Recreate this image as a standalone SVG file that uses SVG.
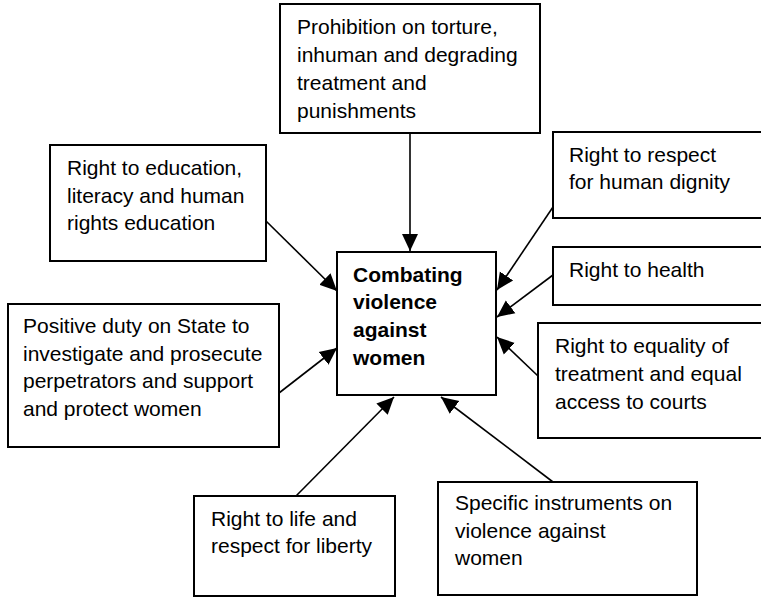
<svg xmlns="http://www.w3.org/2000/svg" width="761" height="597" viewBox="0 0 761 597">
  <style>
    .box { fill: #ffffff; stroke: #000000; stroke-width: 2; }
    .lbl { font-family: "Liberation Sans", Arial, Helvetica, sans-serif; font-size: 21px; fill: #000000; }
    .hub { font-weight: bold; }
    .link { stroke: #000000; stroke-width: 1.6; fill: none; marker-end: url(#head); }
  </style>
  <defs>
    <marker id="head" markerUnits="userSpaceOnUse" markerWidth="18" markerHeight="18" viewBox="0 -9 18 18" refX="17" refY="0" orient="auto">
      <path d="M0,-8 L17,0 L0,8 Z" fill="#000000"/>
    </marker>
  </defs>
  <rect width="761" height="597" fill="#ffffff"/>

  <!-- connectors: every outer box points at the hub -->
  <g id="connectors">
    <line class="link" x1="410" y1="133" x2="410" y2="251"/>
    <line class="link" x1="266" y1="221" x2="337" y2="291"/>
    <line class="link" x1="279" y1="393" x2="337" y2="348"/>
    <line class="link" x1="296" y1="496" x2="394" y2="397"/>
    <line class="link" x1="553" y1="482" x2="441" y2="397"/>
    <line class="link" x1="538" y1="376" x2="497" y2="337"/>
    <line class="link" x1="553" y1="275" x2="497" y2="317"/>
    <line class="link" x1="553" y1="207" x2="497" y2="290"/>
  </g>

  <g id="torture">
    <rect class="box" x="280" y="4" width="260" height="129"/>
    <text class="lbl" x="297" y="34">Prohibition on torture,</text>
    <text class="lbl" x="297" y="62">inhuman and degrading</text>
    <text class="lbl" x="297" y="90">treatment and</text>
    <text class="lbl" x="297" y="118">punishments</text>
  </g>

  <g id="education">
    <rect class="box" x="50" y="145" width="216" height="116"/>
    <text class="lbl" x="67" y="175">Right to education,</text>
    <text class="lbl" x="67" y="203">literacy and human</text>
    <text class="lbl" x="67" y="230">rights education</text>
  </g>

  <g id="dignity">
    <rect class="box" x="553" y="132" width="230" height="86"/>
    <text class="lbl" x="569" y="162">Right to respect</text>
    <text class="lbl" x="569" y="189">for human dignity</text>
  </g>

  <g id="health">
    <rect class="box" x="553" y="247" width="230" height="58"/>
    <text class="lbl" x="569" y="277">Right to health</text>
  </g>

  <g id="positive-duty">
    <rect class="box" x="8" y="304" width="271" height="143"/>
    <text class="lbl" x="23" y="333">Positive duty on State to</text>
    <text class="lbl" x="23" y="361">investigate and prosecute</text>
    <text class="lbl" x="23" y="388">perpetrators and support</text>
    <text class="lbl" x="23" y="416">and protect women</text>
  </g>

  <g id="equality">
    <rect class="box" x="538" y="323" width="240" height="115"/>
    <text class="lbl" x="555" y="353">Right to equality of</text>
    <text class="lbl" x="555" y="381">treatment and equal</text>
    <text class="lbl" x="555" y="409">access to courts</text>
  </g>

  <g id="hub">
    <rect class="box" x="337" y="252" width="159" height="143"/>
    <text class="lbl hub" x="353" y="282">Combating</text>
    <text class="lbl hub" x="353" y="309">violence</text>
    <text class="lbl hub" x="353" y="337">against</text>
    <text class="lbl hub" x="353" y="365">women</text>
  </g>

  <g id="life">
    <rect class="box" x="194" y="496" width="201" height="100"/>
    <text class="lbl" x="211" y="526">Right to life and</text>
    <text class="lbl" x="211" y="553">respect for liberty</text>
  </g>

  <g id="instruments">
    <rect class="box" x="438" y="482" width="259" height="113"/>
    <text class="lbl" x="455" y="510">Specific instruments on</text>
    <text class="lbl" x="455" y="538">violence against</text>
    <text class="lbl" x="455" y="565">women</text>
  </g>
</svg>
